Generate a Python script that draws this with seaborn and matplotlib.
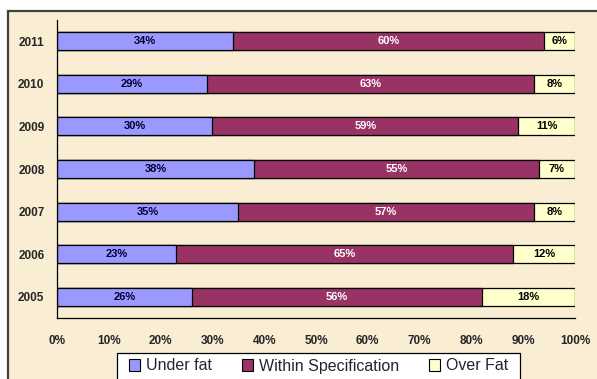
import numpy as np
import pandas as pd
import matplotlib
matplotlib.use("Agg")
import matplotlib.pyplot as plt
from matplotlib.patches import Rectangle, Patch
import seaborn as sns

#%% Data

years = ['2011', '2010', '2009', '2008', '2007', '2006', '2005']
under_fat = [34, 29, 30, 38, 35, 23, 26]
within_spec = [60, 63, 59, 55, 57, 65, 56]
over_fat = [6, 8, 11, 7, 8, 12, 18]
series_names = ['Under fat', 'Within Specification', 'Over Fat']
x_ticks = [0, 10, 20, 30, 40, 50, 60, 70, 80, 90, 100]

colors = ['#9999FF', '#993366', '#FFFFCC']
label_colors = ['#000033', 'white', 'black']

#%% Main

sns.set_style('white')
plt.rcParams['font.family'] = ['Liberation Sans', 'DejaVu Sans']

df = pd.DataFrame({'year': years, 'under': under_fat,
                   'within': within_spec, 'over': over_fat})
df['c1'] = df['under']
df['c2'] = df['under'] + df['within']
df['c3'] = df['c2'] + df['over']

W, H = 597, 379
fig = plt.figure(figsize=(W/100, H/100), dpi=100)
fig.patch.set_facecolor('white')

# parchment chart area with dark frame (behind everything)
bg = Rectangle((8/W, -0.05), 1.0, 1 - 11/H + 0.05, transform=fig.transFigure,
               facecolor='#F9EDD3', edgecolor='#404040', linewidth=1.6, zorder=-10)
fig.patches.append(bg)

ax = fig.add_axes([57/W, 1 - 318/H, (575 - 57)/W, (318 - 20)/H])
ax.set_facecolor('none')

# stacked bars drawn as cumulative layers, longest first
for col, color in zip(['c3', 'c2', 'c1'], colors[::-1]):
    sns.barplot(data=df, x=col, y='year', order=years, orient='h', color=color,
                width=0.42, edgecolor='black', linewidth=0.9, saturation=1, ax=ax)

# value labels
for i in range(len(years)):
    starts = [0, df['c1'][i], df['c2'][i]]
    vals = [df['under'][i], df['within'][i], df['over'][i]]
    for s, v, lc in zip(starts, vals, label_colors):
        ax.text(s + v/2, i, '%d%%' % v, ha='center', va='center',
                fontsize=8, fontweight='bold', color=lc)

ax.set_xlim(0, 100)
ax.set_ylim(len(years) - 0.5, -0.5)
ax.set_xticks(x_ticks)
ax.set_xticklabels(['%d%%' % t for t in x_ticks], fontsize=8.5, fontweight='bold')
ax.set_yticks(range(len(years)))
ax.set_yticklabels(years, fontsize=8.5, fontweight='bold')
ax.set_xlabel('')
ax.set_ylabel('')
ax.tick_params(axis='x', direction='out', length=4, width=0.8, color='black', pad=8)
ax.tick_params(axis='y', length=0, pad=9)

for side in ['top', 'right']:
    ax.spines[side].set_visible(False)
for side in ['left', 'bottom']:
    ax.spines[side].set_color('black')
    ax.spines[side].set_linewidth(0.9)

# legend: white box drawn by hand, entries without frame on top
box = Rectangle((117/W, -0.05), (520 - 117)/W, 1 - 353/H + 0.05,
                transform=fig.transFigure, facecolor='white', edgecolor='black',
                linewidth=0.9, zorder=5)
fig.patches.append(box)

handles = [Patch(facecolor=c, edgecolor='black', linewidth=0.8) for c in colors]
leg = fig.legend(handles, series_names, loc='center', ncol=3,
                 bbox_to_anchor=(318.5/W, 1 - 366/H), fontsize=11.5,
                 frameon=False, handlelength=0.7, handleheight=0.7,
                 handletextpad=0.35, columnspacing=1.9, borderpad=0,
                 borderaxespad=0)
leg.set_zorder(6)

plt.savefig('out.png', dpi=100)
